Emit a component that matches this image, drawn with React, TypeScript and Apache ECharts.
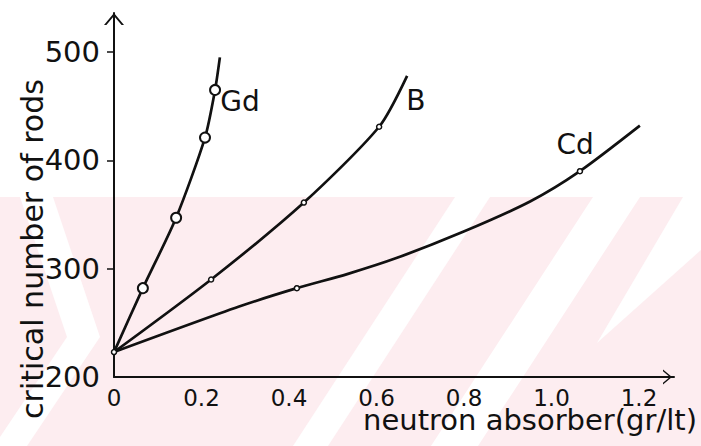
import React, { useEffect, useRef } from 'react';
import * as echarts from 'echarts';

// Gd curve (traced) and measured points
const gdCurveX = [0, 0.066, 0.142, 0.208, 0.231, 0.242];
const gdCurveY = [223, 282, 347, 421, 465, 495];
const gdMarkX = [0.066, 0.142, 0.208, 0.231];
const gdMarkY = [282, 347, 421, 465];

// B curve and measured points
const bCurveX = [0, 0.222, 0.434, 0.606, 0.67];
const bCurveY = [223, 290, 361, 431, 478];
const bMarkX = [0.222, 0.434, 0.606];
const bMarkY = [290, 361, 431];

// Cd curve (traced) and measured points
const cdCurveX = [0, 0.286, 0.418, 0.533, 0.647, 0.798, 0.951, 1.065, 1.202];
const cdCurveY = [223, 265, 282, 295, 310, 334, 362, 390, 432];
const cdMarkX = [0, 0.418, 1.065];
const cdMarkY = [223, 282, 390];

// curve labels
const curveNames = ['Gd', 'B', 'Cd'];
const labelX = [0.288, 0.69, 1.054];
const labelY = [454, 455, 415];

const xTicks = [0, 0.2, 0.4, 0.6, 0.8, 1.0, 1.2];
const yTicks = [200, 300, 400, 500];
const yMinorTicks = [300, 400, 500];

const FONT = 'DejaVu Sans';
const INK = '#111111';
const PINK = '#fdedf0';
const ARROW = 'path://M0,12 L10,0 L20,12 L17.6,12 L10,2.9 L2.4,12 Z';

const zip = (xs: number[], ys: number[]) => xs.map((x, i) => [x, ys[i]]);

export default function App() {
  const ref = useRef<HTMLDivElement>(null);
  useEffect(() => {
    if (!ref.current) return;
    const chart = echarts.init(ref.current, undefined, { renderer: 'svg' });

    // faint background watermark of the scanned page (decoration only)
    const bandTop = 197;
    const bandBottom = 446;
    const white = [
      [[455, 197], [490, 197], [328, 446], [293, 446]],
      [[593, 197], [640, 197], [478, 446], [431, 446]],
      [[683, 197], [701, 197], [701, 250], [597, 343]],
      [[20, 197], [53, 197], [100, 337], [27, 446], [0, 446], [0, 437], [67, 337]],
    ];

    const lineSeries = (name: string, xs: number[], ys: number[]) => ({
      type: 'line',
      name,
      data: zip(xs, ys),
      showSymbol: false,
      smooth: 0.25,
      lineStyle: { color: INK, width: 2.7 },
      z: 2,
    });
    const markSeries = (name: string, xs: number[], ys: number[], size: number, bw: number) => ({
      type: 'scatter',
      name,
      data: zip(xs, ys),
      symbol: 'circle',
      symbolSize: size,
      itemStyle: { color: '#ffffff', borderColor: INK, borderWidth: bw, opacity: 1 },
      z: 4,
    });

    chart.setOption({
      animation: false,
      backgroundColor: '#ffffff',
      graphic: [
        {
          type: 'rect',
          z: -10,
          silent: true,
          shape: { x: 0, y: bandTop, width: 701, height: bandBottom - bandTop },
          style: { fill: PINK },
        },
        ...white.map((pts) => ({
          type: 'polygon',
          z: -9,
          silent: true,
          shape: { points: pts },
          style: { fill: '#ffffff' },
        })),
      ],
      grid: { left: 114, right: 27, top: 13, bottom: 69, containLabel: false, outerBoundsMode: 'none' },
      xAxis: {
        type: 'value',
        min: 0,
        max: 1.28,
        name: 'neutron absorber(gr/lt)',
        nameLocation: 'middle',
        nameGap: 35,
        nameMoveOverlap: false,
        nameTextStyle: {
          fontFamily: FONT,
          fontSize: 29,
          lineHeight: 16,
          color: INK,
          padding: [0, 0, 0, 272],
        },
        axisLine: {
          show: true,
          lineStyle: { color: INK, width: 2 },
          symbol: ['none', ARROW],
          symbolSize: [15, 13],
          symbolOffset: [0, -6.5],
        },
        axisTick: { show: false },
        splitLine: { show: false },
        axisLabel: {
          customValues: xTicks,
          formatter: (v: number) => (v === 0 ? '0' : v.toFixed(1)),
          fontFamily: FONT,
          fontSize: 23,
          lineHeight: 16,
          color: INK,
          margin: 13,
        },
      },
      yAxis: {
        type: 'value',
        min: 200,
        max: 536,
        name: 'critical number of rods',
        nameLocation: 'middle',
        nameRotate: 90,
        nameGap: 77,
        nameMoveOverlap: false,
        nameTextStyle: {
          fontFamily: FONT,
          fontSize: 30,
          lineHeight: 10,
          color: INK,
          padding: [0, 108, 0, 0],
        },
        axisLine: {
          show: true,
          lineStyle: { color: INK, width: 2 },
          symbol: ['none', ARROW],
          symbolSize: [20, 12],
          symbolOffset: [0, -6],
        },
        axisTick: {
          show: true,
          customValues: yMinorTicks,
          length: 7,
          lineStyle: { color: INK, width: 1.5 },
        },
        splitLine: { show: false },
        axisLabel: {
          customValues: yTicks,
          fontFamily: FONT,
          fontSize: 29,
          color: INK,
          margin: 14,
        },
      },
      series: [
        lineSeries('Gd', gdCurveX, gdCurveY),
        lineSeries('B', bCurveX, bCurveY),
        lineSeries('Cd', cdCurveX, cdCurveY),
        markSeries('Gd points', gdMarkX, gdMarkY, 10, 2),
        markSeries('B points', bMarkX, bMarkY, 5, 1.5),
        markSeries('Cd points', cdMarkX, cdMarkY, 5, 1.5),
        {
          type: 'scatter',
          name: 'labels',
          data: curveNames.map((n, i) => ({ name: n, value: [labelX[i], labelY[i]] })),
          symbolSize: 1,
          itemStyle: { color: 'rgba(0,0,0,0)', opacity: 1 },
          label: {
            show: true,
            position: 'inside',
            formatter: (p: any) => p.name,
            fontFamily: FONT,
            fontSize: 28,
            color: INK,
            opacity: 1,
          },
          z: 5,
        },
      ],
    });
    return () => chart.dispose();
  }, []);
  return (
    <div
      ref={ref}
      style={{ position: 'fixed', left: 0, top: 0, width: 701, height: 446, background: '#fff' }}
    />
  );
}
